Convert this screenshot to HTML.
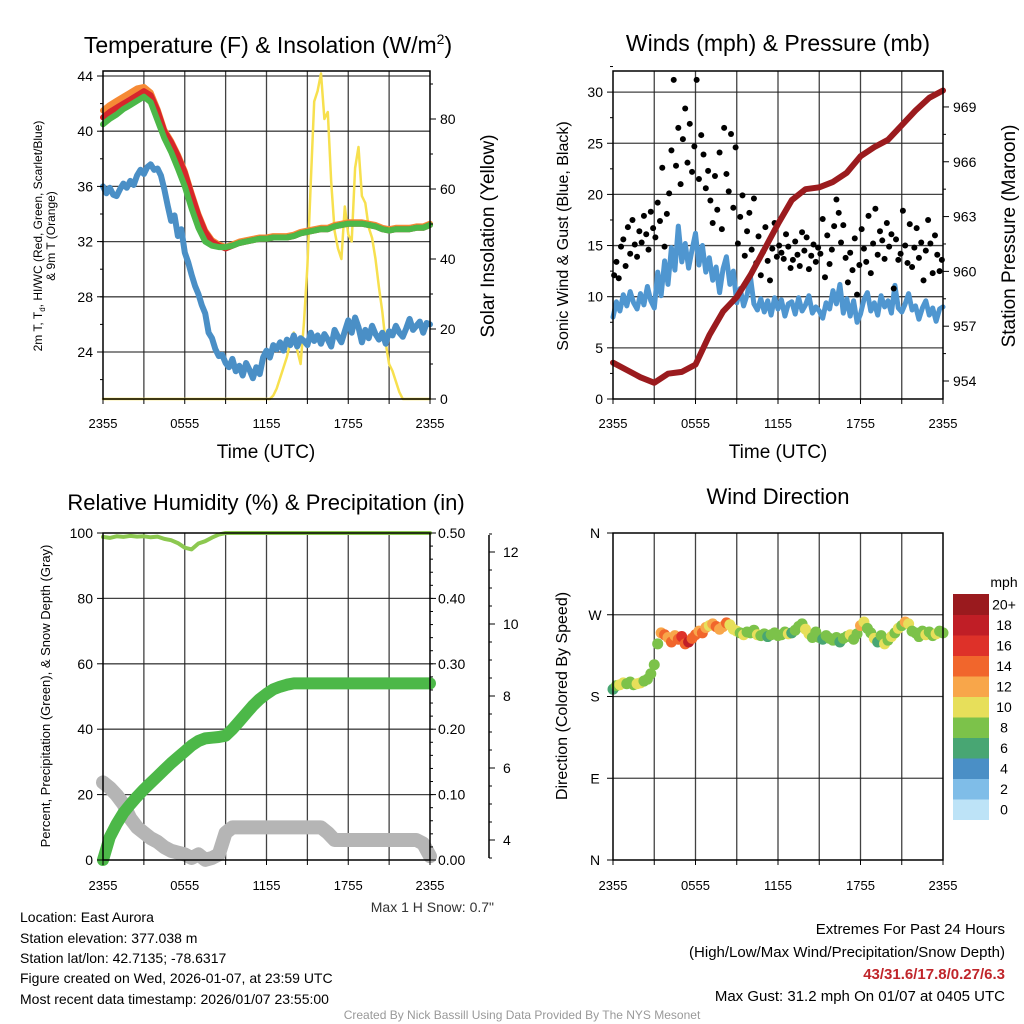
<!DOCTYPE html>
<html><head><meta charset="utf-8"><style>
html,body{margin:0;padding:0;background:#fff}
svg{display:block;font-family:"Liberation Sans",Arial,sans-serif}
</style></head><body>
<svg id="fig" width="1024" height="1024" viewBox="0 0 1024 1024" xmlns="http://www.w3.org/2000/svg">
<g id="root"></g>
<text x="268" y="53" font-size="23" text-anchor="middle">Temperature (F) &amp; Insolation (W/m<tspan font-size="14" dy="-9">2</tspan><tspan dy="9">)</tspan></text>
<text x="778" y="51" font-size="23" text-anchor="middle">Winds (mph) &amp; Pressure (mb)</text>
<text x="266" y="510" font-size="22" text-anchor="middle">Relative Humidity (%) &amp; Precipitation (in)</text>
<text x="778" y="504" font-size="22" text-anchor="middle">Wind Direction</text>

<text transform="translate(42,236) rotate(-90)" font-size="12" text-anchor="middle">2m T, T<tspan font-size="8" dy="3">d</tspan><tspan dy="-3">, HI/WC (Red, Green, Scarlet/Blue)</tspan></text>
<text transform="translate(55,236) rotate(-90)" font-size="12" text-anchor="middle">&amp; 9m T (Orange)</text>
<text transform="translate(494,236) rotate(-90)" font-size="19" text-anchor="middle">Solar Insolation (Yellow)</text>
<text transform="translate(568,236) rotate(-90)" font-size="16" text-anchor="middle">Sonic Wind &amp; Gust (Blue, Black)</text>
<text transform="translate(1015,236) rotate(-90)" font-size="19" text-anchor="middle">Station Pressure (Maroon)</text>
<text transform="translate(50,696) rotate(-90)" font-size="13" text-anchor="middle">Percent, Precipitation (Green), &amp; Snow Depth (Gray)</text>
<text transform="translate(567,696) rotate(-90)" font-size="16" text-anchor="middle">Direction (Colored By Speed)</text>
<text x="266" y="458" font-size="19" text-anchor="middle">Time (UTC)</text>
<text x="778" y="458" font-size="19" text-anchor="middle">Time (UTC)</text>

<text x="494" y="912" font-size="14" text-anchor="end" fill="#333">Max 1 H Snow: 0.7"</text>
<g font-size="14">
<text x="20" y="922">Location: East Aurora</text>
<text x="20" y="943">Station elevation: 377.038 m</text>
<text x="20" y="963">Station lat/lon: 42.7135; -78.6317</text>
<text x="20" y="983">Figure created on Wed, 2026-01-07, at 23:59 UTC</text>
<text x="20" y="1004">Most recent data timestamp: 2026/01/07 23:55:00</text>
</g>
<g font-size="15" text-anchor="end">
<text x="1005" y="934">Extremes For Past 24 Hours</text>
<text x="1005" y="957">(High/Low/Max Wind/Precipitation/Snow Depth)</text>
<text x="1005" y="979" fill="#c0262b" font-weight="bold">43/31.6/17.8/0.27/6.3</text>
<text x="1005" y="1001">Max Gust: 31.2 mph On 01/07 at 0405 UTC</text>
</g>
<text x="522" y="1019" font-size="12" text-anchor="middle" fill="#999">Created By Nick Bassill Using Data Provided By The NYS Mesonet</text>
</svg>
<script>
// ---- data ----
const timeLabels = ["2355","0555","1155","1755","2355"];
const tempRed = [41.0,41.4,41.7,42.0,42.3,42.6,42.9,42.6,41.5,40.0,39.2,38.2,37.0,35.4,33.9,32.7,32.0,31.7,31.5,31.7,31.9,32.0,32.1,32.2,32.2,32.3,32.3,32.3,32.4,32.6,32.7,32.8,32.9,32.9,33.1,33.2,33.3,33.3,33.3,33.2,33.1,32.9,32.8,32.9,32.9,32.9,33.0,33.0,33.2];
const tempGreen = [40.5,40.9,41.2,41.6,41.9,42.2,42.5,42.1,40.8,39.5,38.5,37.3,36.0,34.4,33.0,32.0,31.7,31.6,31.6,31.7,31.9,32.0,32.1,32.2,32.2,32.3,32.3,32.3,32.4,32.6,32.7,32.8,32.9,32.9,33.1,33.2,33.3,33.3,33.3,33.2,33.1,32.9,32.8,32.9,32.9,32.9,33.0,33.0,33.2];
const tempOrange = [41.5,41.9,42.2,42.5,42.8,43.1,43.2,42.8,41.6,40.1,39.3,38.3,37.1,35.5,34.0,32.8,32.1,31.8,31.6,31.8,32.0,32.1,32.2,32.3,32.3,32.4,32.4,32.4,32.5,32.7,32.8,32.9,33.0,33.0,33.2,33.3,33.4,33.4,33.4,33.3,33.2,33.0,32.9,33.0,33.0,33.0,33.1,33.1,33.3];
const dewpoint = [36.0,35.5,35.9,35.4, 35.3,35.8,36.2,35.9, 36.4,36.1,36.8,37.2, 36.9,37.4,37.6,37.2, 37.3,36.8,35.8,34.6, 33.5,33.9,32.4,32.9, 31.2,30.5,29.6,28.8, 28.2,27.4,26.8,25.4, 25.0,24.2,23.7,23.8, 23.2,22.9,23.5,22.6, 23.0,22.3,23.2,22.7, 22.1,22.9,22.4,23.6, 24.1,23.6,24.5,24.2, 24.7,24.1,24.9,24.5, 25.2,24.4,25.0,24.8, 24.5,25.4,24.8,25.2, 24.6,25.3,24.9,24.4, 25.6,25.1,24.7,25.5, 26.3,25.4,26.5,25.8, 24.7,25.6,25.0,25.9, 25.3,24.9,25.4,24.6, 25.5,25.2,25.9,25.4, 25.1,25.7,26.4,25.6, 25.9,26.2,25.4,26.1, 26.0];
const insolation = [0,0,0,0, 0,0,0,0, 0,0,0,0, 0,0,0,0, 0,0,0,0, 0,0,0,0, 0,0,0,0, 0,0,0,0, 0,0,0,0, 0,0,0,0, 0,0,0,0, 0,0,0,0, 0,0,1,3, 6,9,12,16, 19,14,10,22, 38,62,85,88, 93,80,82,62, 48,43,40,55, 47,45,66,72, 58,56,49,46, 40,32,25,16, 10,8,5,2, 0,0,0,0, 0,0,0,0, 0];
const windSpeed = [8.0,9.5,8.6,10.2, 9.1,10.5,9.4,8.8, 10.3,9.2,11.0,9.6, 8.9,12.4,10.1,13.5, 11.2,14.8,12.6,16.9, 13.4,15.2,12.8,14.6, 16.2,13.1,15.0,12.4, 13.8,11.6,12.9,10.4, 12.7,13.9,11.2,12.5, 9.4,10.8,9.1,10.2, 11.9,9.3,8.7,9.8, 8.5,9.6,8.2,9.9, 8.8,9.7,8.1,9.3, 9.5,8.3,9.9,8.6, 9.2,10.1,8.4,9.0, 8.6,7.9,9.4,8.8, 10.6,9.3,11.2,8.4, 9.8,8.1,9.6,7.5, 8.3,9.7,10.4,8.6, 9.4,8.2,10.1,9.0, 9.6,8.4,11.1,8.9, 8.5,9.3,10.3,8.7, 9.1,7.8,8.9,9.6, 8.2,8.9,7.6,8.8, 9.0];
const windGust = [12.1,13.4,11.8,14.9,15.6,13.0, 16.8,14.2,17.5,15.1,13.9,16.4, 15.3,17.9,16.1,14.6,18.3,16.7, 15.8,19.2,17.4,22.6,14.9,18.1, 20.1,24.3,31.2,22.8,26.5,21.0, 25.4,28.4,23.1,26.9,22.2,24.7, 31.2,21.5,25.8,23.9,20.6,22.3, 19.4,17.2,21.8,18.5,24.1,16.6, 26.5,22.0,20.3,25.9,18.7,24.6, 15.2,17.8,19.9,14.0,16.4,18.2, 14.6,19.6,13.3,15.9,12.1,14.4, 16.8,13.5,11.6,14.7,17.2,13.9, 15.0,14.3,13.7,16.1,14.9,12.8, 13.6,15.4,14.1,13.0,16.3,14.5, 15.8,12.7,14.0,15.1,13.4,14.8, 14.2,17.6,11.9,16.0,13.2,14.6, 16.9,19.5,18.2,15.3,17.0,13.8, 11.4,14.3,12.6,15.7,10.2,13.1, 16.6,14.7,13.4,17.9,12.3,15.2, 18.6,14.1,16.4,15.5,13.7,17.2, 14.9,16.1,10.8,15.6,13.6,14.2, 18.4,15.0,13.3,17.1,12.9,14.8, 16.7,13.8,15.3,11.6,14.5,17.5, 15.2,12.3,16.0,14.1,12.5,13.6];
const pressure = [955.0,954.6,954.2,953.9,954.4,954.5,954.9,956.5,957.8,958.6,959.8,961.2,962.6,963.9,964.5,964.6,964.9,965.4,966.3,966.8,967.2,968.0,968.8,969.5,969.9];
const humidity = [98.8,98.5,99.0,98.8,99.1,98.9,99.0,98.7,98.9,98.2,97.8,96.9,95.5,95.0,96.8,97.5,98.6,99.5,100,100,100,100,100,100,100,100,100,100,100,100,100,100,100,100,100,100,100,100,100,100,100,100,100,100,100,100,100,100,100];
const precip = [0,0.035,0.055,0.072,0.085,0.097,0.108,0.118,0.128,0.138,0.148,0.157,0.166,0.175,0.182,0.186,0.187,0.188,0.19,0.20,0.212,0.224,0.236,0.246,0.254,0.261,0.265,0.268,0.27,0.27,0.27,0.27,0.27,0.27,0.27,0.27,0.27,0.27,0.27,0.27,0.27,0.27,0.27,0.27,0.27,0.27,0.27,0.27,0.27];
const snowDepth = [5.6,5.45,5.25,5.0,4.6,4.35,4.2,4.05,3.95,3.8,3.7,3.65,3.6,3.5,3.6,3.45,3.5,3.6,4.2,4.35,4.35,4.35,4.35,4.35,4.35,4.35,4.35,4.35,4.35,4.35,4.35,4.35,4.35,4.2,4.0,4.0,4.0,4.0,4.0,4.0,4.0,4.0,4.0,4.0,4.0,4.0,4.0,3.9,3.55];
const windDir = [188,192,193,195, 194,196,193,194, 195,197,199,205, 215,238,250,248, 245,240,247,243, 246,238,240,244, 248,252,250,256, 258,260,257,254, 257,261,259,254, 252,250,248,251, 250,253,248,247, 249,246,248,250, 247,248,251,249, 250,253,257,260, 254,249,245,251, 245,243,247,244, 242,245,240,244, 246,248,243,249, 258,262,255,250, 244,240,247,238, 242,246,250,255, 258,262,260,252, 250,246,252,248, 251,247,249,252, 250];
const dirSpeed = [7,9,10,10, 9,8,9,10, 10,9,8,9, 8,9,12,14, 13,15,12,14, 16,14,18,15, 15,13,14,12, 10,12,14,13, 12,15,11,10, 10,9,11,8, 8,9,10,8, 8,7,9,8, 9,8,8,10, 7,8,9,8, 11,10,9,8, 8,7,8,9, 8,8,7,9, 8,10,9,8, 12,10,8,9, 10,6,9,10, 8,10,9,10, 9,13,10,8, 8,9,8,10, 9,8,10,8, 9];
const speedBinLabels = ["0","2","4","6","8","10","12","14","16","18","20+"];
const speedColors = ["#bde3f7","#7fbde8","#4a8fc6","#48a673","#7cc24a","#e7df5a","#f8a64a","#f1662c","#de3129","#c01e26","#9a1a1e"];

// ---- helpers ----
const NS="http://www.w3.org/2000/svg";
const root=document.getElementById('root');
function mk(tag,attrs,parent){const e=document.createElementNS(NS,tag);for(const k in attrs)e.setAttribute(k,attrs[k]);(parent||root).appendChild(e);return e;}
function txt(s,x,y,size,anchor,parent){const e=mk('text',{x:x,y:y,'font-size':size,'text-anchor':anchor||'middle'},parent);e.textContent=s;return e;}
function timeX(x0,x1){return t=>x0+t*(x1-x0)/24;}
function series(vals,stepH){return vals.map((v,i)=>[i*stepH,v]);}
function poly(pts,xf,yf,color,w,name,parent){
  const e=mk('polyline',{points:pts.map(p=>xf(p[0]).toFixed(1)+','+yf(p[1]).toFixed(1)).join(' '),fill:'none',stroke:color,'stroke-width':w,'stroke-linejoin':'round','stroke-linecap':'round'},parent);
  
  
  return e;}
function frame(x0,y0,x1,y1,name){
  const g=mk('g',{});
  
  
  return g;}
function grid(g,x0,y0,x1,y1,xf,hy){
  for(let h=3;h<24;h+=3){mk('line',{x1:xf(h),y1:y0,x2:xf(h),y2:y1,stroke:'#222','stroke-width':1.3,opacity:0.85},g);}
  hy.forEach(y=>mk('line',{x1:x0,y1:y,x2:x1,y2:y,stroke:'#222','stroke-width':1.3,opacity:0.85},g));}
function box(g,x0,y0,x1,y1){mk('rect',{x:x0,y:y0,width:x1-x0,height:y1-y0,fill:'none',stroke:'#000','stroke-width':1.5},g);}
function xTicks(g,xf,y1,labY){
  timeLabels.forEach((s,i)=>{const x=xf(i*6);const l=txt(s,x,labY,13,'middle',g);
    
    });
  for(let h=0;h<=24;h+=3)mk('line',{x1:xf(h),y1:y1,x2:xf(h),y2:y1+5,stroke:'#000'},g);}
function yTicksLeft(g,x0,vals,yf,fmt,minor){
  vals.forEach(v=>{mk('line',{x1:x0-6,y1:yf(v),x2:x0,y2:yf(v),stroke:'#000'},g);
    const l=txt(fmt(v),x0-10,yf(v)+5,14,'end',g);
    
    });
  (minor||[]).forEach(v=>mk('line',{x1:x0-3,y1:yf(v),x2:x0,y2:yf(v),stroke:'#000'},g));}
function yTicksRight(g,x1,vals,yf,fmt,minor,lx){
  vals.forEach(v=>{mk('line',{x1:x1,y1:yf(v),x2:x1+6,y2:yf(v),stroke:'#000'},g);
    const l=txt(fmt(v),lx||x1+10,yf(v)+5,14,'start',g);
    
    });
  (minor||[]).forEach(v=>mk('line',{x1:x1,y1:yf(v),x2:x1+3,y2:yf(v),stroke:'#000'},g));}
function range(a,b,s){const r=[];for(let v=a;v<=b+1e-9;v+=s)r.push(+v.toFixed(4));return r;}

// ---- Panel 1: temperature ----
(function(){
  const x0=103,x1=430,y0=71,y1=399;const xf=timeX(x0,x1);
  const yT=v=>76+(44-v)*13.8, yI=v=>399-v*3.5;
  const g=frame(x0,y0,x1,y1,'temperature-panel');
  grid(g,x0,y0,x1,y1,xf,[24,28,32,36,40,44].map(yT));
  poly(series(insolation,0.25),xf,yI,'#f7e04e',2.5,'insolation-line',g);
  poly(series(dewpoint,0.25),xf,yT,'#4a8fc6',6,'dewpoint-line',g);
  poly(series(tempOrange,0.5),xf,yT,'#f68a35',6,'temp-9m-line',g);
  poly(series(tempRed,0.5),xf,yT,'#d7262b',6,'temp-2m-line',g);
  poly(series(tempGreen,0.5),xf,yT,'#4cb848',6,'heat-index-line',g);
  box(g,x0,y0,x1,y1);
  yTicksLeft(g,x0,[24,28,32,36,40,44],yT,v=>String(v),range(22,42,2));
  yTicksRight(g,x1,[0,20,40,60,80],yI,v=>String(v),range(10,90,10));
  xTicks(g,xf,y1,428);
})();

// ---- Panel 2: winds & pressure ----
(function(){
  const x0=613,x1=943,y0=71,y1=399;const xf=timeX(x0,x1);
  const yW=v=>399-v*10.23, yP=v=>381-(v-954)*18.27;
  const g=frame(x0,y0,x1,y1,'winds-panel');
  grid(g,x0,y0,x1,y1,xf,[5,10,15,20,25,30].map(yW));
  poly(series(windSpeed,0.25),xf,yW,'#4f96d0',5,'sustained-wind-line',g);
  series(windGust,1/6).forEach(p=>{const c=mk('circle',{cx:xf(p[0]+1/12),cy:yW(p[1]),r:3,fill:'#000'},g);
    
    });
  poly(series(pressure,1),xf,yP,'#9b1b1e',6,'pressure-line',g);
  box(g,x0,y0,x1,y1);
  yTicksLeft(g,x0,[0,5,10,15,20,25,30],yW,v=>String(v),range(2.5,32.5,5));
  yTicksRight(g,x1,[954,957,960,963,966,969],yP,v=>String(v),range(955.5,967.5,3));
  xTicks(g,xf,y1,428);
})();

// ---- Panel 3: RH & precip ----
(function(){
  const x0=103,x1=430,y0=533,y1=860;const xf=timeX(x0,x1);
  const yH=v=>860-v*3.27, yR=v=>860-v*654, yS=v=>840-(v-4)*36;
  const g=frame(x0,y0,x1,y1,'humidity-panel');
  grid(g,x0,y0,x1,y1,xf,[20,40,60,80].map(yH));
  poly(series(snowDepth,0.5),xf,yS,'#b5b5b5',14,'snow-depth-line',g);
  poly(series(precip,0.5),xf,yR,'#4cb848',12,'precipitation-line',g);
  poly(series(humidity,0.5),xf,yH,'#8cc850',4,'humidity-line',g);
  box(g,x0,y0,x1,y1);
  yTicksLeft(g,x0,[0,20,40,60,80,100],yH,v=>String(v),[]);
  yTicksRight(g,x1,[0,0.1,0.2,0.3,0.4,0.5],yR,v=>v.toFixed(2),range(0.02,0.48,0.02),438);
  mk('line',{x1:489,y1:535,x2:489,y2:858,stroke:'#000','stroke-width':1.5},g);
  yTicksRight(g,489,[4,6,8,10,12],yS,v=>String(v),range(3.5,12.5,0.5),503);
  xTicks(g,xf,y1,890);
})();

// ---- Panel 4: wind direction ----
(function(){
  const x0=613,x1=943,y0=533,y1=860;const xf=timeX(x0,x1);
  const yD=v=>860-v*(327/360);
  const g=frame(x0,y0,x1,y1,'direction-panel');
  grid(g,x0,y0,x1,y1,xf,[90,180,270].map(yD));
  const pts=series(windDir,0.25);
  pts.forEach((p,i)=>{const b=Math.min(10,Math.floor(dirSpeed[i]/2));
    const c=mk('circle',{cx:xf(p[0]),cy:yD(p[1]),r:5.5,fill:speedColors[b]},g);
    
    });
  box(g,x0,y0,x1,y1);
  ["N","E","S","W","N"].forEach((s,i)=>{const v=i*90;mk('line',{x1:x0-6,y1:yD(v),x2:x0,y2:yD(v),stroke:'#000'},g);
    const l=txt(s,x0-18,yD(v)+5,14,'middle',g);
    
    });
  xTicks(g,xf,y1,890);
  const cb=mk('g',{});
  
  
  const bh=20.5, top=594;
  speedColors.forEach((c,i)=>{const y=top+(10-i)*bh;mk('rect',{x:953,y:y,width:36,height:bh+0.5,fill:c},cb);
    const l=txt(speedBinLabels[i],1004,y+bh/2+5,14,'middle',cb);
    
    });
  const u=txt('mph',1004,587,14,'middle',cb);
  
  
})();
</script>
</body></html>
